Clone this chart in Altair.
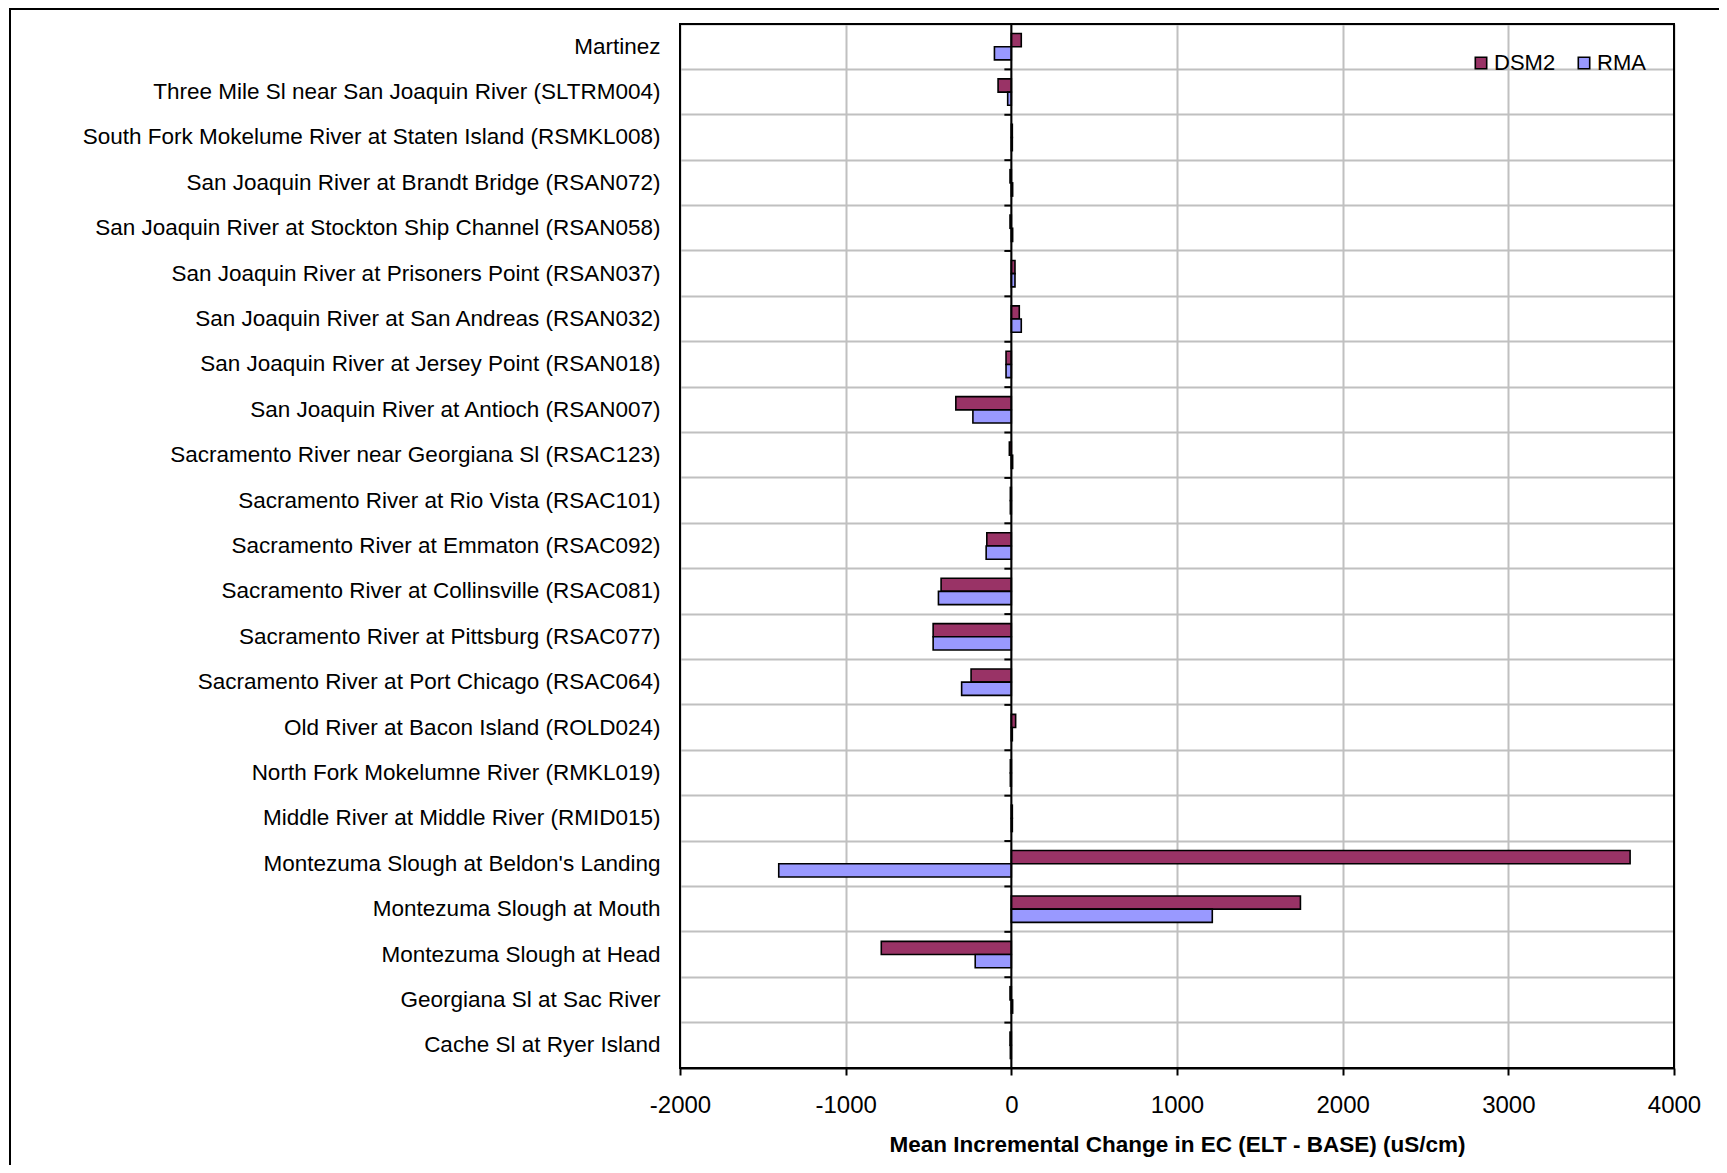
import altair as alt
import pandas as pd

categories = [
    "Martinez",
    "Three Mile Sl near San Joaquin River (SLTRM004)",
    "South Fork Mokelume River at Staten Island (RSMKL008)",
    "San Joaquin River at Brandt Bridge (RSAN072)",
    "San Joaquin River at Stockton Ship Channel (RSAN058)",
    "San Joaquin River at Prisoners Point (RSAN037)",
    "San Joaquin River at San Andreas (RSAN032)",
    "San Joaquin River at Jersey Point (RSAN018)",
    "San Joaquin River at Antioch (RSAN007)",
    "Sacramento River near Georgiana Sl (RSAC123)",
    "Sacramento River at Rio Vista (RSAC101)",
    "Sacramento River at Emmaton (RSAC092)",
    "Sacramento River at Collinsville (RSAC081)",
    "Sacramento River at Pittsburg (RSAC077)",
    "Sacramento River at Port Chicago (RSAC064)",
    "Old River at Bacon Island (ROLD024)",
    "North Fork Mokelumne River (RMKL019)",
    "Middle River at Middle River (RMID015)",
    "Montezuma Slough at Beldon's Landing",
    "Montezuma Slough at Mouth",
    "Montezuma Slough at Head",
    "Georgiana Sl at Sac River",
    "Cache Sl at Ryer Island",
]
dsm2 = [60, -80, 6, -8, -8, 22, 48, -32, -335, -12, -6, -148, -424, -472, -243, 26, -6, 6, 3735, 1745, -785, -8, -8]
rma = [-102, -22, 6, 8, 8, 22, 60, -32, -232, 8, -6, -152, -440, -472, -300, 6, -6, 6, -1404, 1213, -218, 8, -6]
series = ["DSM2", "RMA"]
colors = ["#993366", "#9999FF"]
x_ticks = [-2000, -1000, 0, 1000, 2000, 3000, 4000]

rows = []
for c, a, b in zip(categories, dsm2, rma):
    rows.append({"station": c, "series": "DSM2", "value": a})
    rows.append({"station": c, "series": "RMA", "value": b})
df = pd.DataFrame(rows)
cat_df = pd.DataFrame({"station": categories})

FONT = "Liberation Sans"
W, H = 994, 1044

yscale = alt.Scale(domain=categories, paddingInner=0, paddingOuter=0)
xscale = alt.Scale(domain=[-2000, 4000], nice=False)

bars = alt.Chart(df).mark_bar(stroke="black", strokeWidth=1.6).encode(
    y=alt.Y("station:N", scale=yscale, sort=categories,
            axis=alt.Axis(title=None, ticks=False, domain=False, grid=True,
                          bandPosition=0, gridColor="#c0c0c0", gridWidth=2,
                          labelFont=FONT, labelFontSize=22.5, labelColor="black",
                          labelPadding=20, labelLimit=700)),
    x=alt.X("value:Q", scale=xscale,
            axis=alt.Axis(title="Mean Incremental Change in EC (ELT - BASE) (uS/cm)",
                          values=x_ticks, labelExpr="'' + datum.value", labelFlush=False,
                          grid=True, gridColor="#c0c0c0",
                          gridWidth=2, domainColor="black", domainWidth=2,
                          tickColor="black", tickWidth=2, tickSize=7,
                          labelFont=FONT, labelFontSize=24, labelColor="black",
                          labelPadding=18, titleFont=FONT, titleFontSize=22.5,
                          titleFontWeight="bold", titleColor="black", titlePadding=16)),
    yOffset=alt.YOffset("series:N", sort=series,
                        scale=alt.Scale(domain=series, paddingInner=0, paddingOuter=0.72)),
    color=alt.Color("series:N", sort=series,
                    scale=alt.Scale(domain=series, range=colors),
                    legend=alt.Legend(title=None, orient="none", legendX=790, legendY=28,
                                      direction="horizontal", symbolType="square",
                                      symbolSize=130, symbolStrokeColor="black",
                                      symbolStrokeWidth=1.6, symbolOpacity=1,
                                      labelFont=FONT, labelFontSize=22, labelColor="black",
                                      labelOffset=2, columnPadding=17, padding=0)),
)

zero_line = alt.Chart(cat_df.head(1)).mark_rule(color="black", strokeWidth=2).encode(
    x=alt.datum(0, scale=xscale),
    y=alt.value(0),
    y2=alt.value(H),
)

zero_ticks = alt.Chart(cat_df).mark_rule(color="black", strokeWidth=2).encode(
    y=alt.Y("station:N", scale=yscale, sort=categories, bandPosition=0),
    x=alt.datum(-42, scale=xscale),
    x2=alt.datum(0),
)

frame = alt.Chart(cat_df.head(1)).mark_rect(fillOpacity=0, stroke="black", strokeWidth=2, clip=False).encode(
    x=alt.value(-670),
    x2=alt.value(1100),
    y=alt.value(-15),
    y2=alt.value(1200),
)

plot_border = alt.Chart(cat_df.head(1)).mark_rect(fillOpacity=0, stroke="black", strokeWidth=2, clip=False).encode(
    x=alt.value(0),
    x2=alt.value(W),
    y=alt.value(0),
    y2=alt.value(H),
)

chart = alt.layer(frame, bars, zero_line, zero_ticks, plot_border).properties(
    width=W, height=H,
    padding={"left": 672, "top": 16, "right": 45, "bottom": 97},
    autosize=alt.AutoSizeParams(type="none"),
).configure_view(stroke="black", strokeWidth=2).configure(background="white")

chart.save("out.html", embed_options={"renderer": "svg", "actions": False})
